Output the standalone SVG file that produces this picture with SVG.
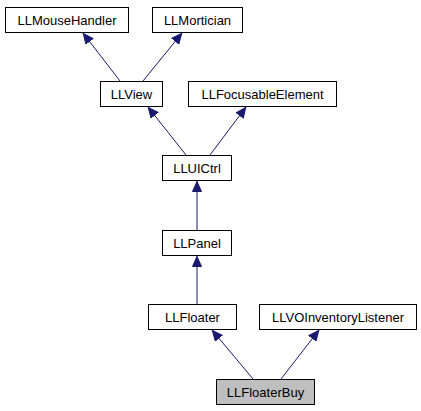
<svg xmlns="http://www.w3.org/2000/svg" width="421" height="411" viewBox="0 0 421 411">
<defs>
<style>
.n rect{fill:#ffffff;stroke:#000000;stroke-width:1}
.n.h rect{fill:#bfbfbf}
.n text{font-family:"Liberation Sans",Arial,sans-serif;font-size:13px;fill:#000000;text-anchor:middle}
.e path{fill:none;stroke:#191970;stroke-width:1}
</style>
<marker id="ah" viewBox="0 0 11 10" refX="11" refY="5" markerWidth="11" markerHeight="10" markerUnits="userSpaceOnUse" orient="auto">
<path d="M0.5,0.5 L10.5,5 L0.5,9.5 Z" fill="#191970" stroke="#191970"/>
</marker>
</defs>
<rect width="421" height="411" fill="#ffffff"/>
<g class="e">
<path d="M120,81 L83,33" marker-end="url(#ah)"/>
<path d="M143,81 L182,33" marker-end="url(#ah)"/>
<path d="M186,155 L148,107" marker-end="url(#ah)"/>
<path d="M210,155 L246,107" marker-end="url(#ah)"/>
<path d="M197,230 L197,181" marker-end="url(#ah)"/>
<path d="M197,304 L197,256" marker-end="url(#ah)"/>
<path d="M253,379 L212,330" marker-end="url(#ah)"/>
<path d="M281,379 L319,330" marker-end="url(#ah)"/>
</g>
<g id="LLMouseHandler" class="n"><rect x="5.5" y="7.5" width="123" height="25"/><text x="67" y="25">LLMouseHandler</text></g>
<g id="LLMortician" class="n"><rect x="152.5" y="7.5" width="90" height="25"/><text x="197.5" y="25">LLMortician</text></g>
<g id="LLView" class="n"><rect x="100.5" y="81.5" width="62" height="25"/><text x="131.5" y="99">LLView</text></g>
<g id="LLFocusableElement" class="n"><rect x="188.5" y="81.5" width="148" height="25"/><text x="262.5" y="99">LLFocusableElement</text></g>
<g id="LLUICtrl" class="n"><rect x="162.5" y="155.5" width="69" height="25"/><text x="197" y="173">LLUICtrl</text></g>
<g id="LLPanel" class="n"><rect x="162.5" y="230.5" width="69" height="25"/><text x="197" y="248">LLPanel</text></g>
<g id="LLFloater" class="n"><rect x="148.5" y="304.5" width="88" height="25"/><text x="192.5" y="322">LLFloater</text></g>
<g id="LLVOInventoryListener" class="n"><rect x="259.5" y="304.5" width="157" height="25"/><text x="338" y="322">LLVOInventoryListener</text></g>
<g id="LLFloaterBuy" class="n h"><rect x="216.5" y="379.5" width="98" height="25"/><text x="265.5" y="397">LLFloaterBuy</text></g>
</svg>
